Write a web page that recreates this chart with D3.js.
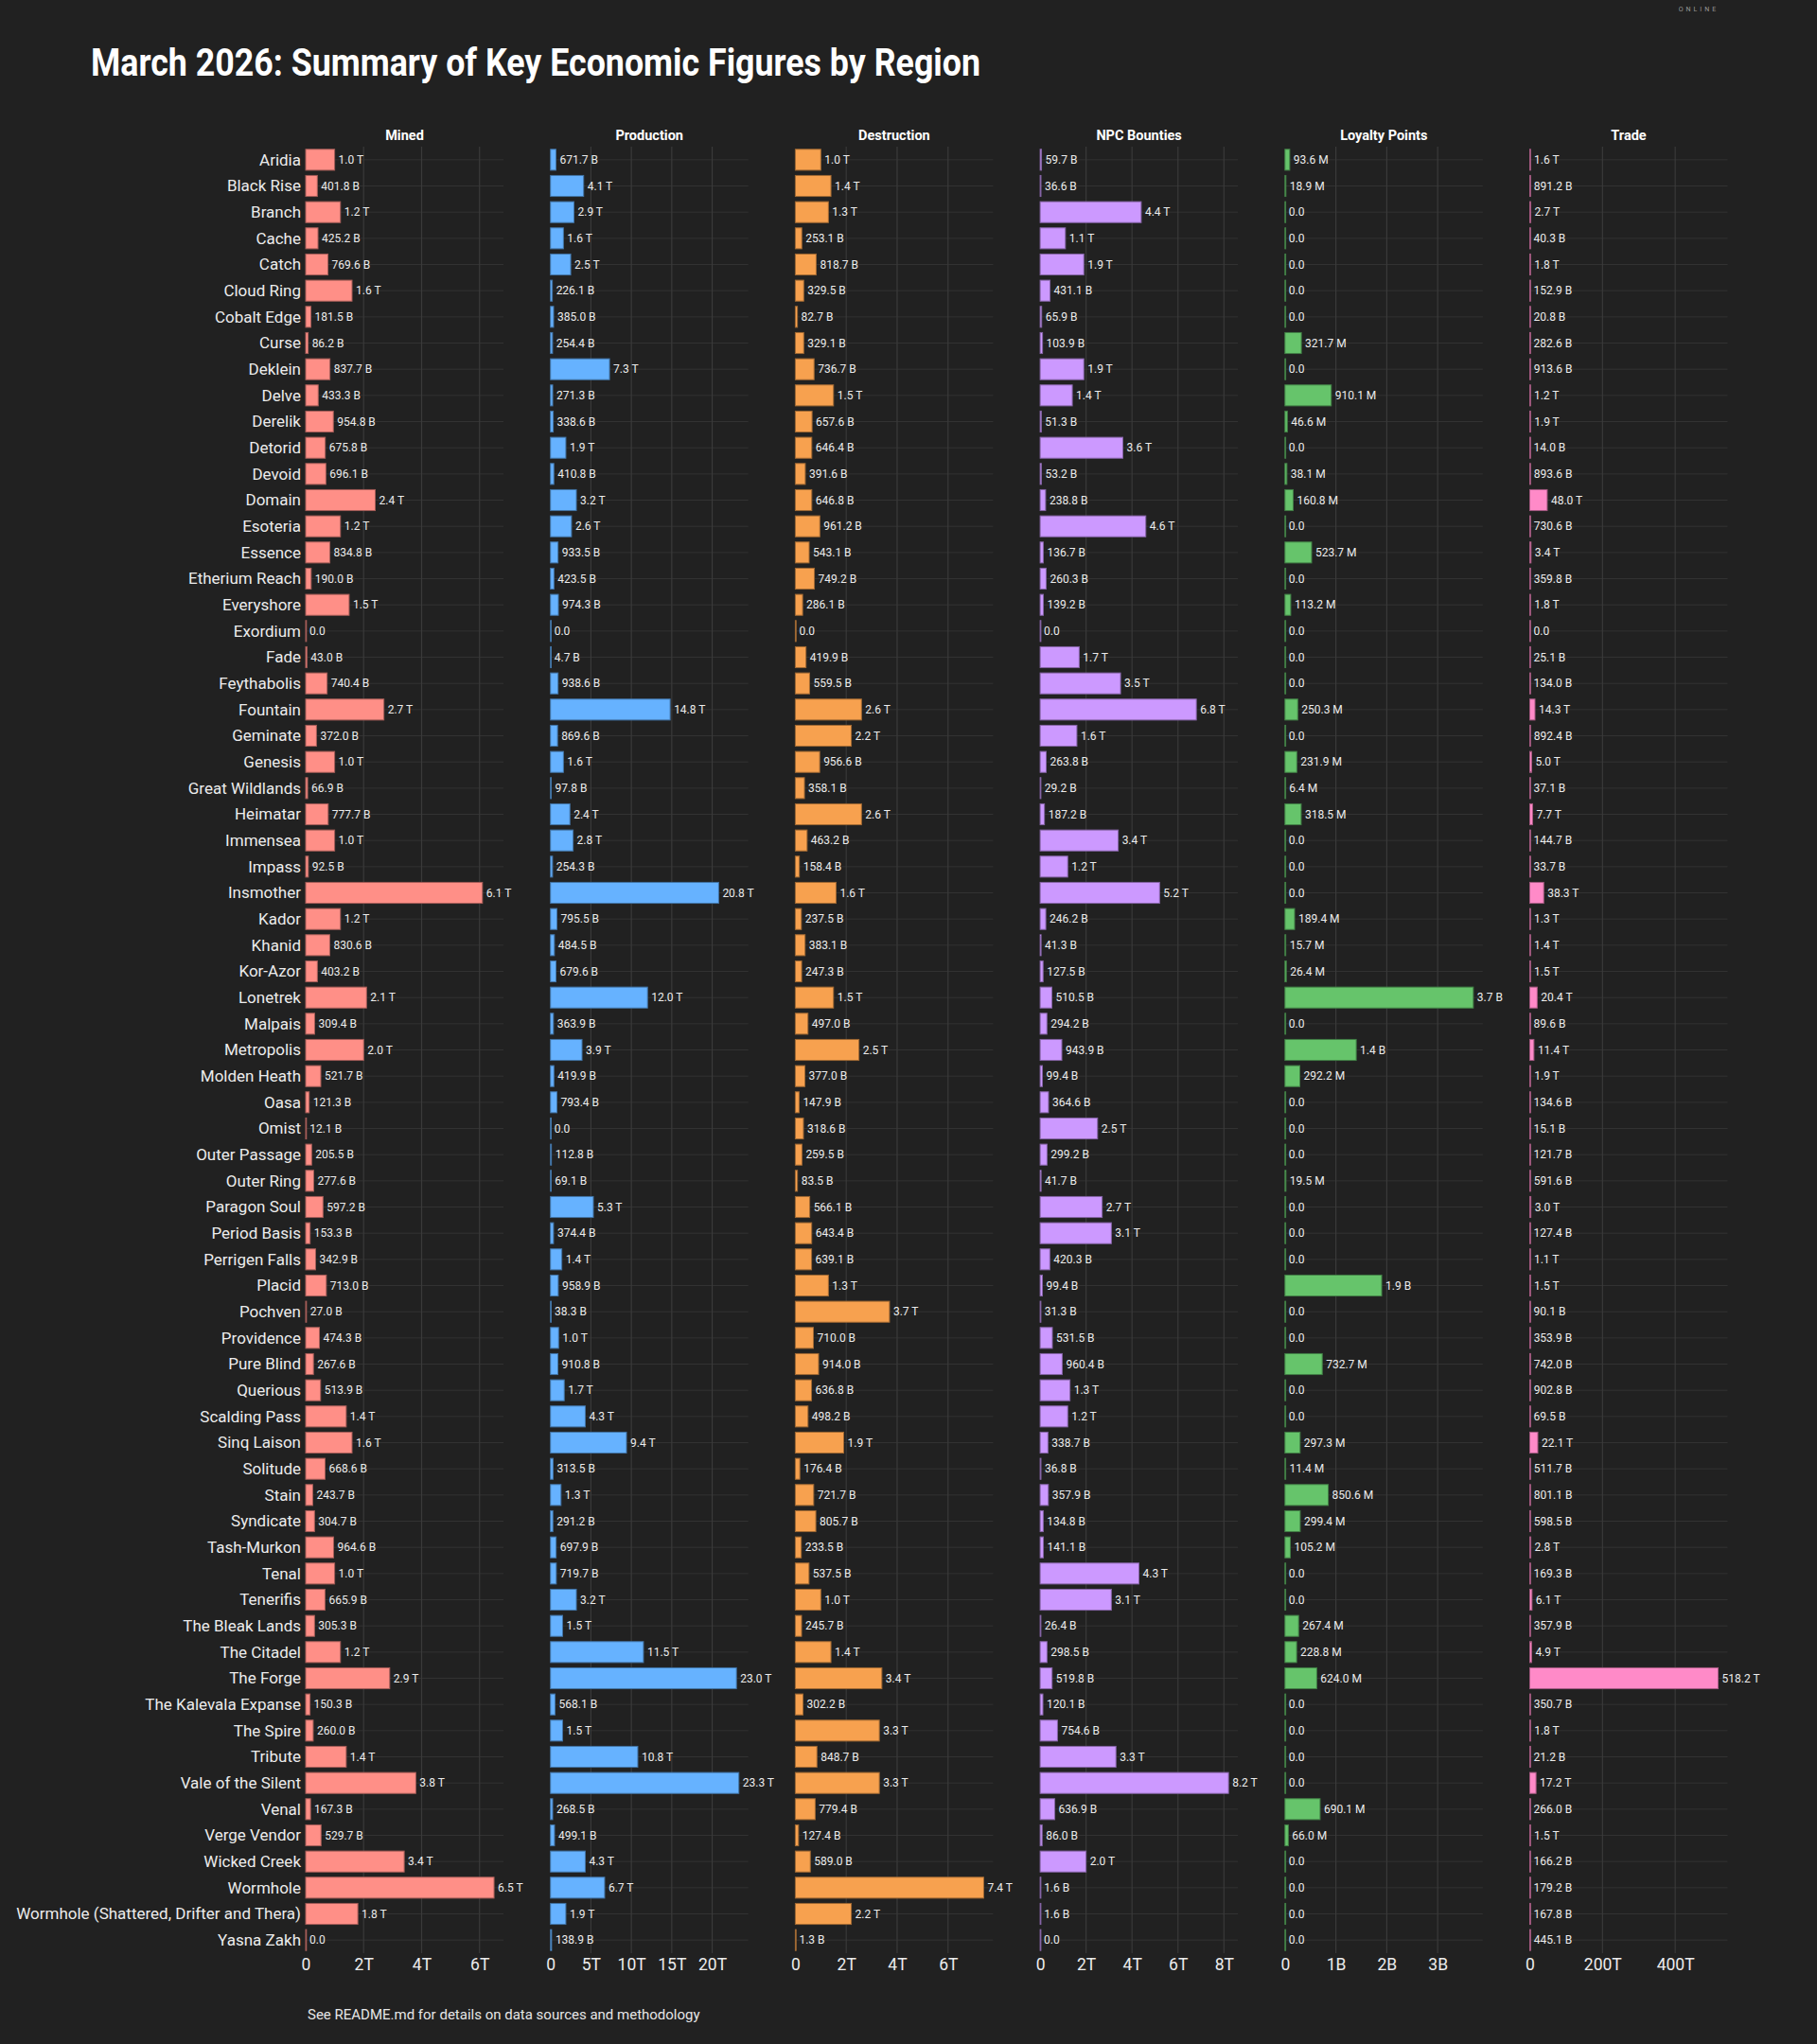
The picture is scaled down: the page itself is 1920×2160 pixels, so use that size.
<!DOCTYPE html>
<html>
<head>
<meta charset="utf-8">
<script src="https://cdn.jsdelivr.net/npm/d3@7/dist/d3.min.js"></script>
<style>
  body { margin: 0; background: #212121; }
  svg { display: block; font-family: Roboto, "Noto Sans", sans-serif; }
</style>
</head>
<body>
<svg id="chart" width="1920" height="2160"></svg>
<script>
let regions = ["Aridia", "Black Rise", "Branch", "Cache", "Catch", "Cloud Ring", "Cobalt Edge", "Curse",
  "Deklein", "Delve", "Derelik", "Detorid", "Devoid", "Domain", "Esoteria", "Essence", "Etherium Reach",
  "Everyshore", "Exordium", "Fade", "Feythabolis", "Fountain", "Geminate", "Genesis", "Great Wildlands",
  "Heimatar", "Immensea", "Impass", "Insmother", "Kador", "Khanid", "Kor-Azor", "Lonetrek", "Malpais",
  "Metropolis", "Molden Heath", "Oasa", "Omist", "Outer Passage", "Outer Ring", "Paragon Soul",
  "Period Basis", "Perrigen Falls", "Placid", "Pochven", "Providence", "Pure Blind", "Querious",
  "Scalding Pass", "Sinq Laison", "Solitude", "Stain", "Syndicate", "Tash-Murkon", "Tenal", "Tenerifis",
  "The Bleak Lands", "The Citadel", "The Forge", "The Kalevala Expanse", "The Spire", "Tribute",
  "Vale of the Silent", "Venal", "Verge Vendor", "Wicked Creek", "Wormhole",
  "Wormhole (Shattered, Drifter and Thera)", "Yasna Zakh"];

// ISK values in billions
let mined = [1000, 401.8, 1200, 425.2, 769.6, 1600, 181.5, 86.2, 837.7, 433.3, 954.8, 675.8, 696.1, 2400,
  1200, 834.8, 190.0, 1500, 0, 43.0, 740.4, 2700, 372.0, 1000, 66.9, 777.7, 1000, 92.5, 6100, 1200, 830.6,
  403.2, 2100, 309.4, 2000, 521.7, 121.3, 12.1, 205.5, 277.6, 597.2, 153.3, 342.9, 713.0, 27.0, 474.3,
  267.6, 513.9, 1400, 1600, 668.6, 243.7, 304.7, 964.6, 1000, 665.9, 305.3, 1200, 2900, 150.3, 260.0,
  1400, 3800, 167.3, 529.7, 3400, 6500, 1800, 0];

let production = [671.7, 4100, 2900, 1600, 2500, 226.1, 385.0, 254.4, 7300, 271.3, 338.6, 1900, 410.8,
  3200, 2600, 933.5, 423.5, 974.3, 0, 4.7, 938.6, 14800, 869.6, 1600, 97.8, 2400, 2800, 254.3, 20800,
  795.5, 484.5, 679.6, 12000, 363.9, 3900, 419.9, 793.4, 0, 112.8, 69.1, 5300, 374.4, 1400, 958.9, 38.3,
  1000, 910.8, 1700, 4300, 9400, 313.5, 1300, 291.2, 697.9, 719.7, 3200, 1500, 11500, 23000, 568.1, 1500,
  10800, 23300, 268.5, 499.1, 4300, 6700, 1900, 138.9];

let destruction = [1000, 1400, 1300, 253.1, 818.7, 329.5, 82.7, 329.1, 736.7, 1500, 657.6, 646.4, 391.6,
  646.8, 961.2, 543.1, 749.2, 286.1, 0, 419.9, 559.5, 2600, 2200, 956.6, 358.1, 2600, 463.2, 158.4, 1600,
  237.5, 383.1, 247.3, 1500, 497.0, 2500, 377.0, 147.9, 318.6, 259.5, 83.5, 566.1, 643.4, 639.1, 1300,
  3700, 710.0, 914.0, 636.8, 498.2, 1900, 176.4, 721.7, 805.7, 233.5, 537.5, 1000, 245.7, 1400, 3400,
  302.2, 3300, 848.7, 3300, 779.4, 127.4, 589.0, 7400, 2200, 1.3];

let npcBounties = [59.7, 36.6, 4400, 1100, 1900, 431.1, 65.9, 103.9, 1900, 1400, 51.3, 3600, 53.2, 238.8,
  4600, 136.7, 260.3, 139.2, 0, 1700, 3500, 6800, 1600, 263.8, 29.2, 187.2, 3400, 1200, 5200, 246.2, 41.3,
  127.5, 510.5, 294.2, 943.9, 99.4, 364.6, 2500, 299.2, 41.7, 2700, 3100, 420.3, 99.4, 31.3, 531.5,
  960.4, 1300, 1200, 338.7, 36.8, 357.9, 134.8, 141.1, 4300, 3100, 26.4, 298.5, 519.8, 120.1, 754.6,
  3300, 8200, 636.9, 86.0, 2000, 1.6, 1.6, 0];

// loyalty points in millions
let loyaltyPoints = [93.6, 18.9, 0, 0, 0, 0, 0, 321.7, 0, 910.1, 46.6, 0, 38.1, 160.8, 0, 523.7, 0, 113.2,
  0, 0, 0, 250.3, 0, 231.9, 6.4, 318.5, 0, 0, 0, 189.4, 15.7, 26.4, 3700, 0, 1400, 292.2, 0, 0, 0, 19.5,
  0, 0, 0, 1900, 0, 0, 732.7, 0, 0, 297.3, 11.4, 850.6, 299.4, 105.2, 0, 0, 267.4, 228.8, 624.0, 0, 0, 0,
  0, 690.1, 66.0, 0, 0, 0, 0];

let trade = [1600, 891.2, 2700, 40.3, 1800, 152.9, 20.8, 282.6, 913.6, 1200, 1900, 14.0, 893.6, 48000,
  730.6, 3400, 359.8, 1800, 0, 25.1, 134.0, 14300, 892.4, 5000, 37.1, 7700, 144.7, 33.7, 38300, 1300,
  1400, 1500, 20400, 89.6, 11400, 1900, 134.6, 15.1, 121.7, 591.6, 3000, 127.4, 1100, 1500, 90.1, 353.9,
  742.0, 902.8, 69.5, 22100, 511.7, 801.1, 598.5, 2800, 169.3, 6100, 357.9, 4900, 518200, 350.7, 1800,
  21.2, 17200, 266.0, 1500, 166.2, 179.2, 167.8, 445.1];

let panelNames = ["Mined", "Production", "Destruction", "NPC Bounties", "Loyalty Points", "Trade"];
let panelValues = [mined, production, destruction, npcBounties, loyaltyPoints, trade];
let panelColors = ["#ff8f87", "#66b2ff", "#f7a14f", "#cc99ff", "#66c46b", "#ff8ac8"];
let panelUnits = [["B", "T"], ["B", "T"], ["B", "T"], ["B", "T"], ["M", "B"], ["B", "T"]];
let panelTicks = [[0, 2000, 4000, 6000], [0, 5000, 10000, 15000, 20000], [0, 2000, 4000, 6000],
  [0, 2000, 4000, 6000, 8000], [0, 1000, 2000, 3000], [0, 200000, 400000]];
let panelTickLabels = [["0", "2T", "4T", "6T"], ["0", "5T", "10T", "15T", "20T"], ["0", "2T", "4T", "6T"],
  ["0", "2T", "4T", "6T", "8T"], ["0", "1B", "2B", "3B"], ["0", "200T", "400T"]];

let svg = d3.select("#chart");
let W = 1920, H = 2160;
let plotTop = 155, plotBottom = 2064;
let panelLeft = 323, panelStep = 258.7, panelWidth = 209;

svg.append("rect").attr("width", W).attr("height", H).attr("fill", "#212121");

svg.append("text")
  .attr("x", 96).attr("y", 80)
  .attr("fill", "#ffffff")
  .attr("font-size", 40).attr("font-weight", 700)
  .attr("textLength", 940).attr("lengthAdjust", "spacingAndGlyphs")
  .text("March 2026: Summary of Key Economic Figures by Region");

svg.append("text")
  .attr("x", 1795).attr("y", 12)
  .attr("text-anchor", "middle")
  .attr("fill", "#9a9a9a")
  .attr("font-size", 7).attr("letter-spacing", 3)
  .text("ONLINE");

let y = d3.scaleBand().domain(regions).range([plotTop, plotBottom]).paddingInner(0.2).paddingOuter(0.1);

// region labels
svg.append("g")
  .selectAll("text")
  .data(regions)
  .enter()
  .append("text")
  .attr("x", 318)
  .attr("y", d => y(d) + y.bandwidth() / 2)
  .attr("dy", "0.35em")
  .attr("text-anchor", "end")
  .attr("fill", "#ececec")
  .attr("font-size", 17)
  .text(d => d);

let fmt = (v, units) => {
  if (v === 0) return "0.0";
  if (v >= 1000) return (v / 1000).toFixed(1) + " " + units[1];
  return v.toFixed(1) + " " + units[0];
};

panelNames.forEach((name, i) => {
  let values = panelValues[i];
  let x0 = panelLeft + i * panelStep;
  let x = d3.scaleLinear()
    .domain([0, d3.max(values) * 1.05])
    .range([x0, x0 + panelWidth]);
  let g = svg.append("g");
  let color = panelColors[i];

  g.append("text")
    .attr("x", x0 + panelWidth / 2).attr("y", 148)
    .attr("text-anchor", "middle")
    .attr("fill", "#ffffff")
    .attr("font-size", 14.5).attr("font-weight", 700)
    .text(name);

  // horizontal grid through each row
  g.append("g")
    .selectAll("line")
    .data(regions)
    .enter()
    .append("line")
    .attr("x1", x0).attr("x2", x0 + panelWidth)
    .attr("y1", d => y(d) + y.bandwidth() / 2)
    .attr("y2", d => y(d) + y.bandwidth() / 2)
    .attr("stroke", "#323232").attr("stroke-width", 1);

  // vertical grid
  g.append("g")
    .selectAll("line")
    .data(panelTicks[i].filter(t => t > 0))
    .enter()
    .append("line")
    .attr("x1", d => x(d)).attr("x2", d => x(d))
    .attr("y1", plotTop).attr("y2", plotBottom)
    .attr("stroke", "#3a3a3a").attr("stroke-width", 1.2);

  g.append("g")
    .selectAll("rect")
    .data(regions)
    .enter()
    .append("rect")
    .attr("x", x(0))
    .attr("y", d => y(d))
    .attr("height", y.bandwidth())
    .attr("width", (d, j) => Math.max(x(values[j]) - x(0), 0.8))
    .attr("fill", color)
    .attr("stroke", d3.color(color).darker(1.2))
    .attr("stroke-width", 1);

  g.append("g")
    .selectAll("text")
    .data(regions)
    .enter()
    .append("text")
    .attr("x", (d, j) => x(values[j]) + 4)
    .attr("y", d => y(d) + y.bandwidth() / 2)
    .attr("dy", "0.35em")
    .attr("fill", "#ececec")
    .attr("font-size", 12)
    .text((d, j) => fmt(values[j], panelUnits[i]));

  let axis = d3.axisBottom(x)
    .tickValues(panelTicks[i])
    .tickFormat((d, k) => panelTickLabels[i][k])
    .tickSize(0)
    .tickPadding(6);
  let ax = g.append("g")
    .attr("transform", "translate(0," + plotBottom + ")")
    .call(axis);
  ax.select(".domain").remove();
  ax.selectAll("text")
    .attr("fill", "#ececec")
    .attr("font-size", 17.5)
    .attr("font-family", "Roboto, sans-serif");
});

svg.append("text")
  .attr("x", 325).attr("y", 2134)
  .attr("fill", "#e6e6e6")
  .attr("font-size", 15)
  .text("See README.md for details on data sources and methodology");
</script>
</body>
</html>
